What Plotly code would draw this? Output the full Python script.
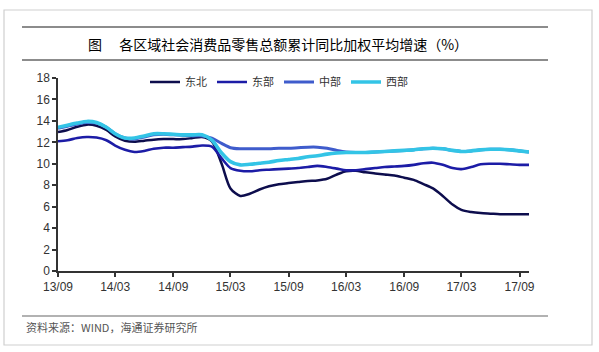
import plotly.graph_objects as go
import pandas as pd

# ---- data (monthly, 2013-09 .. 2017-10) ----
months = pd.date_range("2013-09-01", "2017-10-01", freq="MS")

northeast = [12.95, 13.15, 13.45, 13.65, 13.55, 13.15, 12.55, 12.15, 12.05, 12.15,
             12.25, 12.3, 12.3, 12.3, 12.4, 12.5, 12.1, 10.0, 7.7, 7.0,
             7.2, 7.6, 7.9, 8.1, 8.2, 8.3, 8.4, 8.45, 8.6, 9.0,
             9.3, 9.35, 9.2, 9.1, 9.0, 8.9, 8.7, 8.5, 8.1, 7.7,
             7.0, 6.2, 5.7, 5.5, 5.4, 5.35, 5.3, 5.3, 5.3, 5.3]
east = [12.1, 12.2, 12.4, 12.5, 12.45, 12.2, 11.7, 11.3, 11.1, 11.2,
        11.4, 11.5, 11.5, 11.55, 11.6, 11.7, 11.6, 10.5, 9.6, 9.35,
        9.3, 9.4, 9.45, 9.5, 9.55, 9.6, 9.7, 9.8, 9.7, 9.55,
        9.4, 9.4, 9.5, 9.6, 9.7, 9.75, 9.8, 9.9, 10.05, 10.1,
        9.9, 9.6, 9.5, 9.7, 9.95, 10.0, 10.0, 9.95, 9.9, 9.9]
central = [13.3, 13.5, 13.7, 13.85, 13.8, 13.4, 12.8, 12.4, 12.3, 12.5,
           12.7, 12.75, 12.7, 12.65, 12.6, 12.6, 12.4, 11.9, 11.5, 11.4,
           11.4, 11.4, 11.4, 11.45, 11.45, 11.5, 11.55, 11.55, 11.45, 11.25,
           11.1, 11.05, 11.05, 11.1, 11.15, 11.2, 11.25, 11.3, 11.4, 11.45,
           11.4, 11.25, 11.15, 11.2, 11.3, 11.35, 11.35, 11.3, 11.2, 11.1]
west = [13.4, 13.6, 13.8, 13.95, 13.85, 13.4, 12.8, 12.4, 12.4, 12.6,
        12.8, 12.8, 12.75, 12.7, 12.7, 12.7, 12.2, 11.0, 10.2, 9.9,
        9.95, 10.05, 10.15, 10.3, 10.4, 10.5, 10.65, 10.75, 10.9, 11.0,
        11.05, 11.05, 11.05, 11.1, 11.15, 11.2, 11.25, 11.3, 11.4, 11.45,
        11.4, 11.25, 11.15, 11.2, 11.3, 11.35, 11.35, 11.3, 11.2, 11.1]

series_names = ["东北", "东部", "中部", "西部"]
tick_dates = ["2013-09-01", "2014-03-01", "2014-09-01", "2015-03-01", "2015-09-01",
              "2016-03-01", "2016-09-01", "2017-03-01", "2017-09-01"]
tick_labels = ["13/09", "14/03", "14/09", "15/03", "15/09",
               "16/03", "16/09", "17/03", "17/09"]
y_ticks = [0, 2, 4, 6, 8, 10, 12, 14, 16, 18]

title_text = "图　 各区域社会消费品零售总额累计同比加权平均增速（%）"
source_text = "资料来源：WIND，海通证券研究所"

# ---- styling ----
W, H = 599, 352
ML, MR, MT, MB = 58, 70, 78, 81
PW, PH = W - ML - MR, H - MT - MB

def px(x):
    return (x - ML) / PW

def py(y):
    return (H - MB - y) / PH

colors = ["#0d0d4d", "#1c1ca6", "#3f5ccc", "#33c4e6"]
widths = [2.5, 2.6, 3.0, 3.6]

fig = go.Figure()
for name, vals, c, w in zip(series_names, [northeast, east, central, west], colors, widths):
    fig.add_trace(go.Scatter(x=months, y=vals, name=name, mode="lines",
                             line=dict(color=c, width=w, shape="spline", smoothing=0.8)))

fig.update_layout(
    width=W, height=H,
    margin=dict(l=ML, r=MR, t=MT, b=MB),
    paper_bgcolor="white", plot_bgcolor="white",
    font=dict(family="Liberation Sans, Arial", size=12, color="#333"),
    showlegend=True,
    legend=dict(orientation="h", x=px(145), y=py(82), xanchor="left", yanchor="middle",
                font=dict(family="Noto Sans CJK SC", size=11, color="#333"),
                bgcolor="rgba(0,0,0,0)", itemwidth=30, tracegroupgap=0),
    xaxis=dict(range=["2013-09-01", "2017-10-01"], tickvals=tick_dates, ticktext=tick_labels,
               showgrid=False, zeroline=False, showline=True, linecolor="#333", linewidth=1.5,
               ticks="outside", ticklen=4, tickcolor="#333", tickwidth=1.5,
               tickfont=dict(size=12, color="#333")),
    yaxis=dict(range=[0, 18], tickvals=y_ticks, showgrid=False, zeroline=False,
               showline=True, linecolor="#333", linewidth=1.5,
               ticks="outside", ticklen=4, tickcolor="#333", tickwidth=1.5,
               tickfont=dict(size=12, color="#333")),
)

shapes = [
    dict(type="rect", xref="paper", yref="paper", x0=px(4), x1=px(592), y0=py(10), y1=py(345),
         line=dict(color="#cfcfcf", width=1.2), fillcolor="rgba(0,0,0,0)", layer="below"),
    dict(type="line", xref="paper", yref="paper", x0=px(22), x1=px(548), y0=py(27), y1=py(27),
         line=dict(color="#666", width=1.5)),
    dict(type="line", xref="paper", yref="paper", x0=px(22), x1=px(548), y0=py(60), y1=py(60),
         line=dict(color="#666", width=1.5)),
    dict(type="line", xref="paper", yref="paper", x0=px(22), x1=px(548), y0=py(316), y1=py(316),
         line=dict(color="#666", width=1.2)),
]
fig.update_layout(shapes=shapes)

fig.add_annotation(text=title_text, xref="paper", yref="paper", x=px(278), y=py(44),
                   xanchor="center", yanchor="middle", showarrow=False,
                   font=dict(family="Noto Sans CJK SC", size=14, color="#000"))
fig.add_annotation(text=source_text, xref="paper", yref="paper", x=px(24), y=py(327),
                   xanchor="left", yanchor="middle", showarrow=False,
                   font=dict(family="Noto Sans CJK SC", size=11, color="#555"))

fig.write_html("out.html")
